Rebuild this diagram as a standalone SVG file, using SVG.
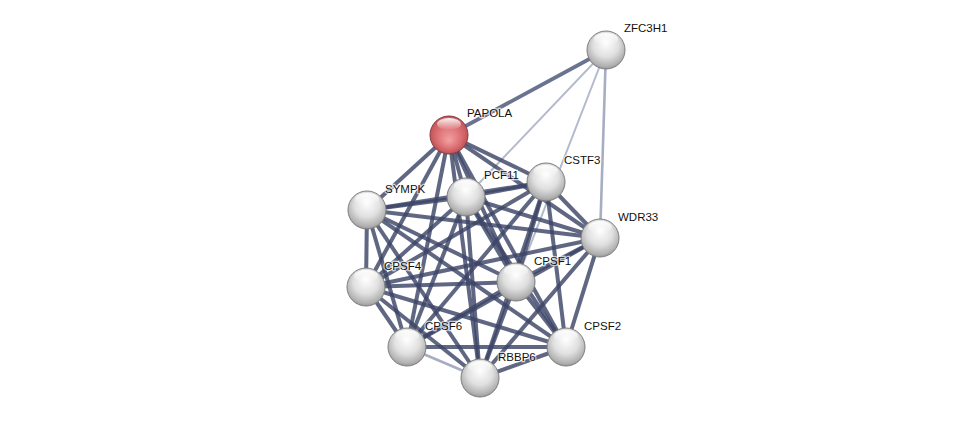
<svg xmlns="http://www.w3.org/2000/svg" width="976" height="423" viewBox="0 0 976 423">
<defs>
<radialGradient id="gw" cx="50%" cy="40%" r="60%" fx="50%" fy="30%">
<stop offset="0" stop-color="#ffffff"/>
<stop offset="0.55" stop-color="#e0e0e0"/>
<stop offset="0.9" stop-color="#b0b0b0"/>
<stop offset="1" stop-color="#969696"/>
</radialGradient>
<radialGradient id="gr" cx="50%" cy="45%" r="60%" fx="50%" fy="65%">
<stop offset="0" stop-color="#f3a1a3"/>
<stop offset="0.6" stop-color="#d8686c"/>
<stop offset="1" stop-color="#a9474b"/>
</radialGradient>
<linearGradient id="hl" x1="0" y1="0" x2="0" y2="1">
<stop offset="0" stop-color="#ffffff" stop-opacity="0.95"/>
<stop offset="1" stop-color="#ffffff" stop-opacity="0"/>
</linearGradient>
</defs>
<style>
.e{stroke:#3d4668;stroke-opacity:0.82;stroke-width:4;fill:none}
.m{stroke:#6a7390;stroke-width:3.8;fill:none}
.l{stroke:#a7aec4;stroke-width:2.6;fill:none}
.w{stroke:#b4bacd;stroke-width:2;fill:none}
.n{fill:url(#gw);stroke:#7d7d7d;stroke-width:1}
.r{fill:url(#gr);stroke:#8a3a3e;stroke-width:1}
.h{fill:url(#hl)}
text{font-family:"Liberation Sans",Arial,sans-serif;font-size:11.5px;fill:#111;paint-order:stroke;stroke:#ffffff;stroke-width:2.5px;stroke-opacity:0.7}
</style>
<rect width="976" height="423" fill="#ffffff"/>
<g id="edges">
<line class="m" x1="606" y1="50" x2="449" y2="135"/>
<line class="w" x1="606" y1="50" x2="466" y2="197"/>
<line class="w" x1="606" y1="50" x2="516" y2="282"/>
<line class="l" x1="606" y1="50" x2="600" y2="238"/>
<line class="e" x1="449" y1="135" x2="546" y2="182"/>
<line class="e" x1="449" y1="135" x2="466" y2="197"/>
<line class="e" x1="449" y1="135" x2="367" y2="210"/>
<line class="e" x1="449" y1="135" x2="600" y2="238"/>
<line class="e" x1="449" y1="135" x2="366" y2="287"/>
<line class="e" x1="449" y1="135" x2="516" y2="282"/>
<line class="e" x1="449" y1="135" x2="407" y2="347"/>
<line class="e" x1="449" y1="135" x2="566" y2="347"/>
<line class="e" x1="449" y1="135" x2="480" y2="378"/>
<line class="e" x1="546" y1="182" x2="466" y2="197"/>
<line class="e" x1="546" y1="182" x2="367" y2="210"/>
<line class="e" x1="546" y1="182" x2="600" y2="238"/>
<line class="e" x1="546" y1="182" x2="366" y2="287"/>
<line class="e" x1="546" y1="182" x2="516" y2="282"/>
<line class="e" x1="546" y1="182" x2="407" y2="347"/>
<line class="e" x1="546" y1="182" x2="566" y2="347"/>
<line class="e" x1="546" y1="182" x2="480" y2="378"/>
<line class="e" x1="466" y1="197" x2="367" y2="210"/>
<line class="e" x1="466" y1="197" x2="600" y2="238"/>
<line class="e" x1="466" y1="197" x2="366" y2="287"/>
<line class="e" x1="466" y1="197" x2="516" y2="282"/>
<line class="e" x1="466" y1="197" x2="407" y2="347"/>
<line class="e" x1="466" y1="197" x2="566" y2="347"/>
<line class="e" x1="466" y1="197" x2="480" y2="378"/>
<line class="e" x1="367" y1="210" x2="600" y2="238"/>
<line class="e" x1="367" y1="210" x2="366" y2="287"/>
<line class="e" x1="367" y1="210" x2="516" y2="282"/>
<line class="e" x1="367" y1="210" x2="407" y2="347"/>
<line class="e" x1="367" y1="210" x2="566" y2="347"/>
<line class="e" x1="367" y1="210" x2="480" y2="378"/>
<line class="e" x1="600" y1="238" x2="366" y2="287"/>
<line class="e" x1="600" y1="238" x2="516" y2="282"/>
<line class="e" x1="600" y1="238" x2="407" y2="347"/>
<line class="e" x1="600" y1="238" x2="566" y2="347"/>
<line class="e" x1="600" y1="238" x2="480" y2="378"/>
<line class="e" x1="366" y1="287" x2="516" y2="282"/>
<line class="e" x1="366" y1="287" x2="407" y2="347"/>
<line class="e" x1="366" y1="287" x2="566" y2="347"/>
<line class="e" x1="366" y1="287" x2="480" y2="378"/>
<line class="e" x1="516" y1="282" x2="407" y2="347"/>
<line class="e" x1="516" y1="282" x2="566" y2="347"/>
<line class="e" x1="516" y1="282" x2="480" y2="378"/>
<line class="e" x1="407" y1="347" x2="566" y2="347"/>
<line class="l" x1="407" y1="347" x2="480" y2="378"/>
<line class="e" x1="566" y1="347" x2="480" y2="378"/>
</g>
<g id="ZFC3H1"><circle class="n" cx="606" cy="50" r="19"/><ellipse class="h" cx="606" cy="39" rx="12" ry="6"/><text x="624" y="32">ZFC3H1</text></g>
<g id="PAPOLA"><circle class="r" cx="449" cy="135" r="19"/><ellipse class="h" cx="449" cy="124" rx="12" ry="6"/><text x="467" y="117">PAPOLA</text></g>
<g id="CSTF3"><circle class="n" cx="546" cy="182" r="19"/><ellipse class="h" cx="546" cy="171" rx="12" ry="6"/><text x="564" y="164">CSTF3</text></g>
<g id="PCF11"><circle class="n" cx="466" cy="197" r="19"/><ellipse class="h" cx="466" cy="186" rx="12" ry="6"/><text x="484" y="179">PCF11</text></g>
<g id="SYMPK"><circle class="n" cx="367" cy="210" r="19"/><ellipse class="h" cx="367" cy="199" rx="12" ry="6"/><text x="385" y="193">SYMPK</text></g>
<g id="WDR33"><circle class="n" cx="600" cy="238" r="19"/><ellipse class="h" cx="600" cy="227" rx="12" ry="6"/><text x="618" y="221">WDR33</text></g>
<g id="CPSF4"><circle class="n" cx="366" cy="287" r="19"/><ellipse class="h" cx="366" cy="276" rx="12" ry="6"/><text x="384" y="270">CPSF4</text></g>
<g id="CPSF1"><circle class="n" cx="516" cy="282" r="19"/><ellipse class="h" cx="516" cy="271" rx="12" ry="6"/><text x="534" y="265">CPSF1</text></g>
<g id="CPSF6"><circle class="n" cx="407" cy="347" r="19"/><ellipse class="h" cx="407" cy="336" rx="12" ry="6"/><text x="425" y="330">CPSF6</text></g>
<g id="CPSF2"><circle class="n" cx="566" cy="347" r="19"/><ellipse class="h" cx="566" cy="336" rx="12" ry="6"/><text x="584" y="330">CPSF2</text></g>
<g id="RBBP6"><circle class="n" cx="480" cy="378" r="19"/><ellipse class="h" cx="480" cy="367" rx="12" ry="6"/><text x="498" y="361">RBBP6</text></g>
</svg>
